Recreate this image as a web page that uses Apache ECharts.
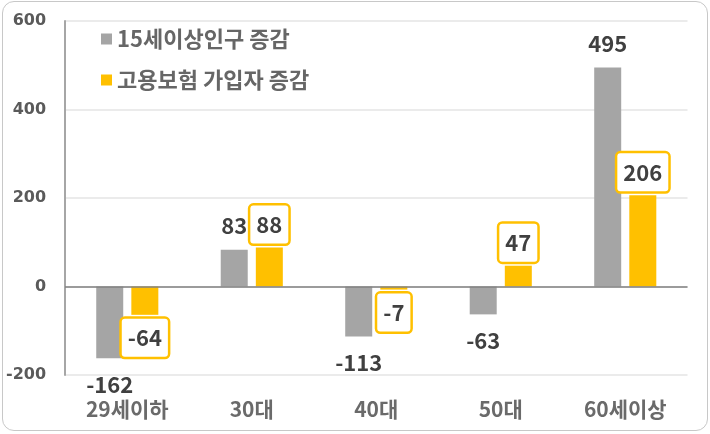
<!DOCTYPE html>
<html>
<head>
<meta charset="utf-8">
<script src="https://cdn.jsdelivr.net/npm/echarts@6/dist/echarts.min.js"></script>
<style>
  html, body { margin: 0; padding: 0; background: #fff; }
  #main {
    width: 706px; height: 430px;
    margin: 1px 0 0 2px;
    border: 1px solid #c8c8c8;
    border-radius: 12px;
    box-sizing: border-box;
  }
</style>
</head>
<body>
<div id="main"></div>
<script>
const categories = ["29세이하", "30대", "40대", "50대", "60세이상"];
const seriesNames = ["15세이상인구 증감", "고용보험 가입자 증감"];
const popValues = [-162, 83, -113, -63, 495];
const insuredValues = [-64, 88, -7, 47, 206];
const yTicks = [-200, 0, 200, 400, 600];

const grayColor = "#A5A5A5";
const orangeColor = "#FFC000";
const font = "'Noto Sans CJK KR', 'Noto Sans', sans-serif";

// 값의 부호에 따라 라벨 위치를 위/아래로
const withLabelPos = (values, up, down) =>
  values.map((v) => ({
    value: v,
    label: { position: v < 0 ? "bottom" : "top", distance: v < 0 ? down : up },
  }));

const chart = echarts.init(document.getElementById("main"));

const option = {
  animation: false,
  grid: { left: 61.5, right: 19.5, top: 19, bottom: 55 },
  legend: {
    orient: "vertical",
    left: 93,
    top: 21,
    itemWidth: 11,
    itemHeight: 11,
    itemGap: 19,
    icon: "rect",
    data: seriesNames,
    textStyle: { color: "#666", fontSize: 22, fontWeight: "bold", fontFamily: font },
  },
  xAxis: {
    type: "category",
    data: categories,
    axisLine: { show: false },
    axisTick: { show: false },
    axisLabel: { color: "#6a6a6a", fontSize: 21, fontWeight: "bold", fontFamily: font, margin: 24 },
  },
  yAxis: {
    type: "value",
    min: yTicks[0],
    max: yTicks[yTicks.length - 1],
    interval: 200,
    axisLine: { show: true, lineStyle: { color: "#a6a6a6", width: 2 } },
    axisTick: { show: false },
    axisLabel: {
      color: "#5a5a5a",
      fontSize: 16,
      fontWeight: "bold",
      fontFamily: "'DejaVu Sans', sans-serif",
      margin: 19,
    },
    splitLine: { lineStyle: { color: "#e4e4e4", width: 1.5 } },
  },
  series: [
    {
      name: seriesNames[0],
      type: "bar",
      data: withLabelPos(popValues, 12, 14),
      barWidth: 27,
      barGap: "30%",
      itemStyle: { color: grayColor },
      label: {
        show: true,
        color: "#404040",
        fontSize: 22,
        fontWeight: "bold",
        fontFamily: font,
        lineHeight: 24,
      },
      markLine: {
        silent: true,
        symbol: "none",
        label: { show: false },
        lineStyle: { color: "#808080", width: 1.5, type: "solid" },
        data: [{ yAxis: 0 }],
      },
    },
    {
      name: seriesNames[1],
      type: "bar",
      data: withLabelPos(insuredValues, 4, 4),
      barWidth: 27,
      itemStyle: { color: orangeColor },
      label: {
        show: true,
        color: "#404040",
        fontSize: 22,
        fontWeight: "bold",
        fontFamily: font,
        lineHeight: 24,
        backgroundColor: "#fff",
        borderColor: orangeColor,
        borderWidth: 2.5,
        borderRadius: 3,
        padding: [7, 6, 7, 6],
      },
    },
  ],
};

chart.setOption(option);
</script>
</body>
</html>
